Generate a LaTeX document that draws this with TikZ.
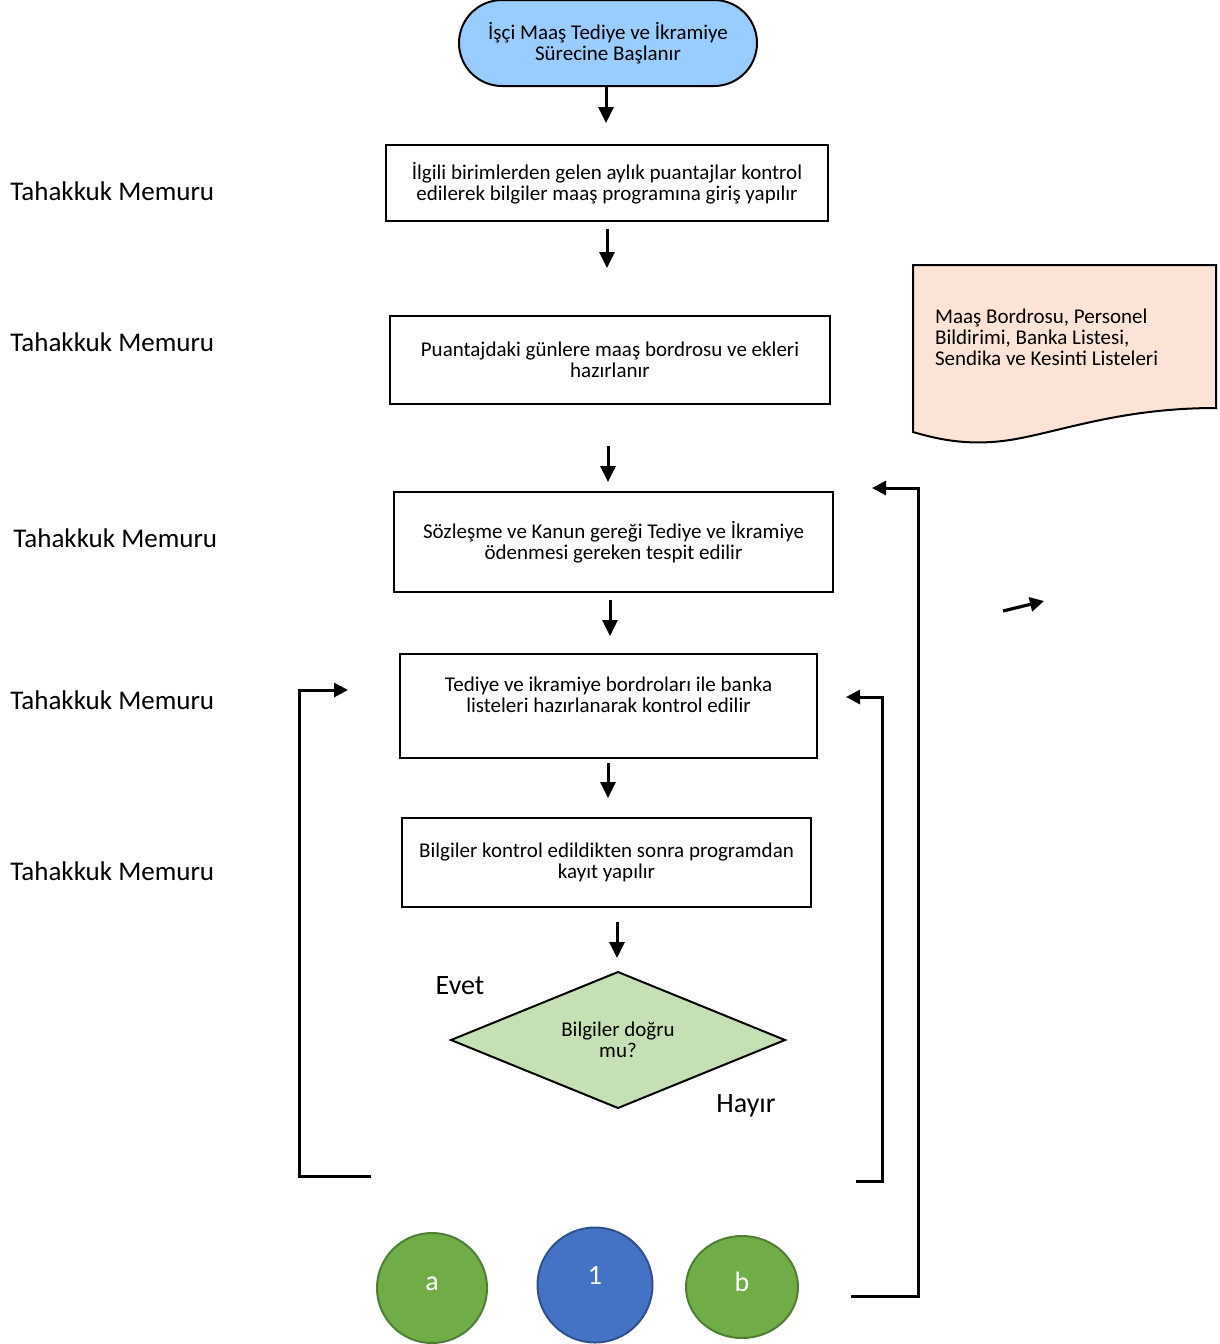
\documentclass[tikz,border=0pt]{standalone}
\usepackage{fontspec}
\setmainfont{Carlito}
\usetikzlibrary{arrows.meta,shapes.geometric,shapes.misc}
\definecolor{startblue}{HTML}{99CCFF}
\definecolor{docfill}{HTML}{FBE3D5}
\definecolor{diafill}{HTML}{C5E0B4}
\definecolor{cgreen}{HTML}{70AD47}
\definecolor{cgreenb}{HTML}{507E32}
\definecolor{cblue}{HTML}{4472C4}
\definecolor{cblueb}{HTML}{2F528F}
\tikzset{
  boxtext/.style={font=\fontsize{10.5}{10.5}\selectfont, align=center},
  procbox/.style={draw, line width=1pt, rectangle, inner sep=0pt, boxtext},
  role/.style={anchor=west, inner sep=0pt, font=\fontsize{13.5}{14}\selectfont},
  answer/.style={font=\fontsize{14}{15}\selectfont},
  flow/.style={line width=1.5pt, -{Triangle[length=8pt,width=7.5pt]}},
  loop/.style={line width=1.5pt, -{Triangle[length=7pt,width=7pt]}},
  conn/.style={circle, draw, line width=1pt, inner sep=0pt},
  conntext/.style={text=white, font=\fontsize{14}{14}\selectfont},
}
\begin{document}
\begin{tikzpicture}[x=0.5pt,y=-0.5pt]
\useasboundingbox (0,0) rectangle (1220,1344);

% start terminator
\node[rounded rectangle, draw, line width=1pt, fill=startblue, minimum width=149pt, minimum height=43pt, inner sep=0pt, boxtext] (start) at (608,43) {İşçi Maaş Tediye ve İkramiye\\Sürecine Başlanır};

% process boxes
\node[procbox, minimum width=221pt, minimum height=38pt] (b1) at (607,183) {İlgili birimlerden gelen aylık puantajlar kontrol\\edilerek bilgiler maaş programına giriş yapılır};
\node[procbox, minimum width=220pt, minimum height=44pt] (b2) at (610,360) {Puantajdaki günlere maaş bordrosu ve ekleri\\hazırlanır};
\node[procbox, minimum width=219.5pt, minimum height=50pt] (b3) at (613.5,542) {Sözleşme ve Kanun gereği Tediye ve İkramiye\\ödenmesi gereken tespit edilir};
\node[procbox, minimum width=208.5pt, minimum height=52pt] (b4) at (608.5,706) {};
\node[boxtext] (b4t) at (608.5,695) {Tediye ve ikramiye bordroları ile banka\\listeleri hazırlanarak kontrol edilir};
\node[procbox, minimum width=204.5pt, minimum height=44.5pt] (b5) at (606.5,862.5) {Bilgiler kontrol edildikten sonra programdan\\kayıt yapılır};

% decision
\draw[line width=1pt, fill=diafill] (618,972) -- (785,1040) -- (618,1108) -- (451,1040) -- cycle;
\node[boxtext] (dec) at (618,1040) {Bilgiler doğru\\mu?};
\node[answer] (evet) at (460,986) {Evet};
\node[answer] (hayir) at (746,1106) {Hayır};

% document shape
\draw[line width=1pt, fill=docfill] (913,265) -- (1216,265) -- (1216,408)
  .. controls (1120,408) and (1060,432) .. (1010,440)
  .. controls (970,446) and (940,440) .. (913,432) -- cycle;
\node[anchor=west, align=left, font=\fontsize{10.5}{10.5}\selectfont] (doct) at (928,337) {Maaş Bordrosu, Personel\\Bildirimi, Banka Listesi,\\Sendika ve Kesinti Listeleri};

% roles
\node[role] (r1) at (10,191) {Tahakkuk Memuru};
\node[role] (r2) at (10,342) {Tahakkuk Memuru};
\node[role] (r3) at (13,538) {Tahakkuk Memuru};
\node[role] (r4) at (10,700) {Tahakkuk Memuru};
\node[role] (r5) at (10,871) {Tahakkuk Memuru};

% flow arrows (free-standing)
\coordinate (a1s) at (606,86);   \coordinate (a1e) at (606,123);
\coordinate (a2s) at (607,229);  \coordinate (a2e) at (607,268);
\coordinate (a3s) at (608,446);  \coordinate (a3e) at (608,482);
\coordinate (a4s) at (610,600);  \coordinate (a4e) at (610,636);
\coordinate (a5s) at (608,763);  \coordinate (a5e) at (608,798);
\coordinate (a6s) at (617,922);  \coordinate (a6e) at (617,958);
\draw[flow] (a1s) -- (a1e);
\draw[flow] (a2s) -- (a2e);
\draw[flow] (a3s) -- (a3e);
\draw[flow] (a4s) -- (a4e);
\draw[flow] (a5s) -- (a5e);
\draw[flow] (a6s) -- (a6e);

% stray arrow
\coordinate (sa1) at (1003,611); \coordinate (sa2) at (1044,601);
\draw[line width=1.6pt, -{Triangle[length=7pt,width=7pt]}] (sa1) -- (sa2);

% loops
\coordinate (l1s) at (371,1176); \coordinate (l1e) at (348,690);
\draw[loop] (l1s) -- (299,1176) |- (l1e);
\coordinate (l2s) at (856,1181); \coordinate (l2e) at (846,697);
\draw[loop] (l2s) -- (882,1181) |- (l2e);
\coordinate (l3s) at (851,1296); \coordinate (l3e) at (872,488);
\draw[loop] (l3s) -- (918,1296) |- (l3e);

% connectors
\node[conn, fill=cgreen, draw=cgreenb, minimum size=55pt] (ca) at (432,1288) {};
\node[conntext] (cat) at (432,1284) {a};
\node[conn, fill=cblue, draw=cblueb, minimum size=57.5pt] (c1) at (595,1285) {};
\node[conntext] (c1t) at (595,1275) {1};
\node[ellipse, draw=cgreenb, fill=cgreen, line width=1pt, minimum width=56pt, minimum height=51pt, inner sep=0pt] (cb) at (742,1287) {};
\node[conntext] (cbt) at (742,1282) {b};
\end{tikzpicture}
\end{document}
